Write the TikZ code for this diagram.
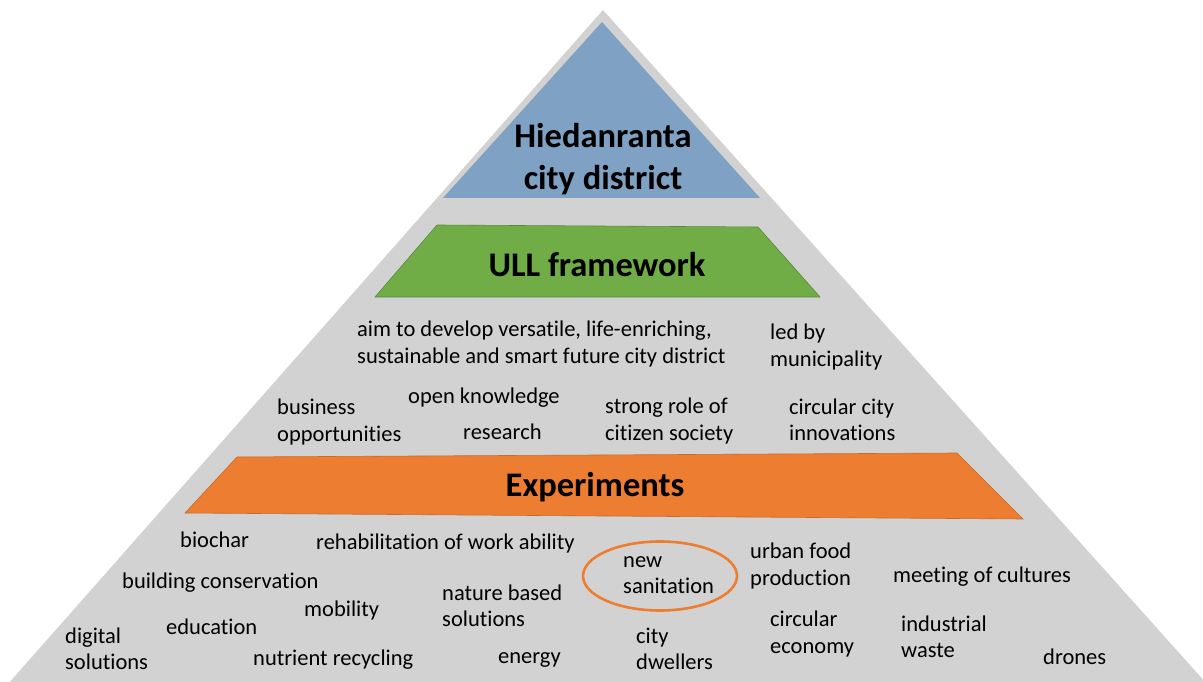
\documentclass[tikz,border=0pt]{standalone}
\usepackage{fontspec}
\setmainfont{Carlito}[Ligatures=NoCommon]
\usetikzlibrary{shapes.geometric}
\definecolor{pyrgray}{RGB}{210,210,210}
\definecolor{pyrblue}{RGB}{127,161,195}
\definecolor{pyrgreen}{RGB}{112,173,71}
\definecolor{pyrorange}{RGB}{237,125,49}
\tikzset{
  big/.style={font=\fontsize{34.5}{42}\selectfont\bfseries, align=center, inner sep=0pt},
  lbl/.style={font=\fontsize{22.5}{26.5}\selectfont, align=left, anchor=west, inner sep=0pt},
}
\begin{document}
\begin{tikzpicture}[x=1pt,y=-1pt]
\useasboundingbox (0,0) rectangle (1203,682);
\clip (0,0) rectangle (1203,682);
% base pyramid
\fill[pyrgray] (603,10) -- (8,684) -- (1207,684) -- cycle;
% tiers
\fill[pyrblue] (602,22) -- (443,198) -- (760,198) -- cycle;
\filldraw[fill=pyrgreen, draw=pyrgreen!80!black, line width=0.6pt] (437,225) -- (758,227) -- (820,297) -- (375,297) -- cycle;
\filldraw[fill=pyrorange, draw=pyrorange!85!black, line width=0.6pt] (237,457) -- (957,453) -- (1023,519) -- (185,513) -- cycle;
% titles
\node[big] (hied) at (603,159) {Hiedanranta\\city district};
\node[big] (ull) at (597,265) {ULL framework};
\node[big] (exp) at (595,487) {Experiments};
% middle labels
\node[lbl] (aim) at (357,344) {aim to develop versatile, life-enriching,\\sustainable and smart future city district};
\node[lbl] (led) at (770,347) {led by\\municipality};
\node[lbl] (bus) at (277,422) {business\\opportunities};
\node[lbl] (open) at (408,398) {open knowledge};
\node[lbl] (res) at (463,432) {research};
\node[lbl] (cit) at (605,421) {strong role of\\citizen society};
\node[lbl] (circ) at (789,420) {circular city\\innovations};
% bottom labels
\node[lbl] (bio) at (180,540) {biochar};
\node[lbl] (reh) at (316,543) {rehabilitation of work ability};
\node[lbl] (bld) at (122,583) {building conservation};
\node[lbl] (mob) at (304,610) {mobility};
\node[lbl] (edu) at (166,627) {education};
\node[lbl] (dig) at (65,649) {digital\\solutions};
\node[lbl] (nut) at (253,660) {nutrient recycling};
\node[lbl] (nat) at (442,606) {nature based\\solutions};
\node[lbl] (ene) at (498,660) {energy};
\node[lbl] (san) at (623,575) {new\\sanitation};
\node[lbl] (dwe) at (636,649) {city\\dwellers};
\node[lbl] (urb) at (750,566) {urban food\\production};
\node[lbl] (eco) at (770,634) {circular\\economy};
\node[lbl] (meet) at (893,577) {meeting of cultures};
\node[lbl] (ind) at (901,637) {industrial\\waste};
\node[lbl] (dro) at (1043,657) {drones};
% highlight ring
\node[ellipse, draw=pyrorange, line width=2.6pt, minimum width=154pt, minimum height=69pt, inner sep=0pt] (ring) at (660,576) {};
\end{tikzpicture}
\end{document}
